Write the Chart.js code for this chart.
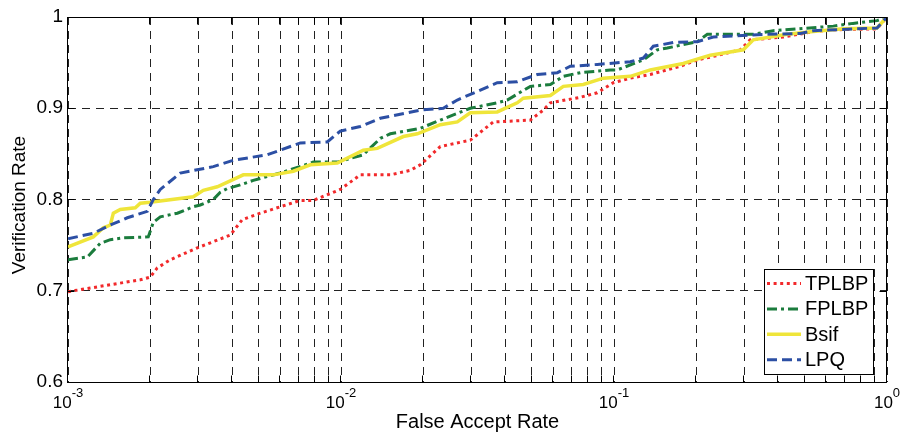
<!DOCTYPE html>
<html><head><meta charset="utf-8">
<script src="https://cdn.jsdelivr.net/npm/chart.js@4/dist/chart.umd.min.js"></script>
<style>html,body{margin:0;padding:0;background:#fff}canvas{display:block}</style>
</head><body>
<canvas id="c" width="904" height="433"></canvas>
<script>
// ---------- data ----------
const seriesNames = ['TPLBP', 'FPLBP', 'Bsif', 'LPQ'];

const tplbpFar  = [0.001, 0.001207, 0.00184, 0.002002, 0.002123, 0.00237, 0.002976, 0.003931, 0.00435, 0.005063, 0.005993, 0.007094, 0.007916, 0.00994, 0.01177, 0.01516, 0.01794, 0.01952, 0.02311, 0.02976, 0.03156, 0.03613, 0.04936, 0.05508, 0.05846, 0.07527, 0.08685, 0.0994, 0.1148, 0.1358, 0.175, 0.202, 0.2253, 0.2901, 0.3156, 0.417, 0.537, 0.6358, 0.9193, 1];
const tplbpRate = [0.699, 0.703, 0.712, 0.715, 0.725, 0.734, 0.747, 0.761, 0.778, 0.785, 0.792, 0.799, 0.799, 0.811, 0.827, 0.827, 0.832, 0.838, 0.858, 0.865, 0.871, 0.885, 0.887, 0.898, 0.906, 0.912, 0.917, 0.928, 0.933, 0.937, 0.946, 0.953, 0.956, 0.964, 0.975, 0.978, 0.984, 0.986, 0.987, 1.0];

const fplbpFar  = [0.001, 0.001177, 0.001313, 0.001429, 0.001594, 0.001968, 0.002053, 0.002178, 0.002515, 0.002877, 0.003052, 0.003406, 0.003614, 0.003833, 0.004277, 0.004773, 0.005993, 0.007916, 0.009692, 0.01207, 0.01393, 0.01516, 0.01952, 0.02311, 0.02976, 0.03736, 0.04065, 0.04936, 0.05846, 0.06523, 0.07527, 0.09692, 0.1028, 0.1281, 0.1441, 0.1567, 0.202, 0.2197, 0.3237, 0.3833, 0.6358, 0.7508, 0.9193, 1];
const fplbpRate = [0.734, 0.737, 0.752, 0.756, 0.758, 0.759, 0.775, 0.781, 0.785, 0.792, 0.794, 0.800, 0.808, 0.812, 0.816, 0.821, 0.829, 0.841, 0.841, 0.849, 0.867, 0.872, 0.878, 0.887, 0.900, 0.906, 0.909, 0.924, 0.926, 0.935, 0.939, 0.942, 0.942, 0.953, 0.964, 0.966, 0.973, 0.981, 0.981, 0.985, 0.990, 0.993, 0.996, 1.0];

const bsifFar  = [0.001, 0.001238, 0.001347, 0.001429, 0.001466, 0.001554, 0.001764, 0.00184, 0.002002, 0.002877, 0.003131, 0.003523, 0.00417, 0.004387, 0.005649, 0.006688, 0.007719, 0.009692, 0.01207, 0.01358, 0.01691, 0.01903, 0.02311, 0.02667, 0.02976, 0.03736, 0.04422, 0.04654, 0.05846, 0.06523, 0.07719, 0.09138, 0.1148, 0.1358, 0.1794, 0.2071, 0.2253, 0.2976, 0.3237, 0.4313, 0.537, 0.6918, 0.9193, 1];
const bsifRate = [0.748, 0.759, 0.769, 0.772, 0.785, 0.789, 0.791, 0.796, 0.797, 0.803, 0.810, 0.814, 0.824, 0.827, 0.827, 0.831, 0.838, 0.840, 0.854, 0.856, 0.869, 0.872, 0.882, 0.885, 0.895, 0.896, 0.906, 0.911, 0.914, 0.924, 0.926, 0.933, 0.935, 0.942, 0.949, 0.955, 0.958, 0.964, 0.975, 0.981, 0.984, 0.987, 0.988, 1.0];

const lpqFar  = [0.001, 0.001238, 0.001429, 0.001649, 0.001952, 0.002053, 0.002178, 0.002579, 0.003406, 0.004032, 0.00537, 0.007094, 0.008909, 0.00994, 0.01177, 0.01393, 0.01952, 0.0237, 0.02667, 0.03736, 0.04422, 0.05236, 0.062, 0.06918, 0.08685, 0.1148, 0.1281, 0.1393, 0.1649, 0.202, 0.2311, 0.3643, 0.4813, 0.537, 0.9193, 1];
const lpqRate = [0.757, 0.763, 0.772, 0.780, 0.787, 0.800, 0.811, 0.829, 0.836, 0.843, 0.849, 0.862, 0.863, 0.875, 0.880, 0.889, 0.898, 0.900, 0.909, 0.928, 0.929, 0.937, 0.939, 0.946, 0.948, 0.951, 0.955, 0.968, 0.972, 0.973, 0.978, 0.981, 0.982, 0.985, 0.988, 1.0];

const xTickValues = [0.001, 0.002, 0.003, 0.004, 0.005, 0.006, 0.007, 0.008, 0.009,
                     0.01, 0.02, 0.03, 0.04, 0.05, 0.06, 0.07, 0.08, 0.09,
                     0.1, 0.2, 0.3, 0.4, 0.5, 0.6, 0.7, 0.8, 0.9, 1];
const xDecadeValues = [0.001, 0.01, 0.1, 1];
const xDecadeExps = ['-3', '-2', '-1', '0'];
const yTickValues = [0.6, 0.7, 0.8, 0.9, 1];
const yTickLabels = ['0.6', '0.7', '0.8', '0.9', '1'];
const xTitle = 'False Accept Rate';
const yTitle = 'Verification Rate';

// ---------- styling ----------
const FONT = "'Liberation Sans', Arial, Helvetica, sans-serif";
const styles = [
  { color: '#f2292b', dash: [3, 3.6], width: 3,   order: 4 },
  { color: '#1b7c3d', dash: [10, 4, 3, 4], width: 3, order: 3 },
  { color: '#efe53a', dash: [], width: 3.5, order: 2 },
  { color: '#2c4fa4', dash: [10, 5], width: 3, order: 1 }
];
const farSets = [tplbpFar, fplbpFar, bsifFar, lpqFar];
const rateSets = [tplbpRate, fplbpRate, bsifRate, lpqRate];

const datasets = seriesNames.map((name, k) => ({
  label: name,
  data: farSets[k].map((f, i) => ({ x: f, y: rateSets[k][i] })),
  borderColor: styles[k].color,
  backgroundColor: styles[k].color,
  borderDash: styles[k].dash,
  borderWidth: styles[k].width,
  borderCapStyle: 'butt',
  borderJoinStyle: 'miter',
  pointRadius: 0,
  tension: 0,
  fill: false,
  order: styles[k].order
}));

const decor = {
  id: 'decor',
  afterDraw(chart) {
    const { ctx, chartArea: a, scales: { x, y } } = chart;
    const L = Math.round(a.left) - 0.5, R = Math.round(a.right) - 0.5;
    const T = Math.round(a.top) + 0.5, B = Math.round(a.bottom) + 0.5;
    ctx.save();
    ctx.setLineDash([]);
    ctx.strokeStyle = '#000';
    ctx.lineWidth = 1;
    // inside ticks
    const TL = 7;
    ctx.beginPath();
    xTickValues.forEach(v => {
      const px = Math.round(x.getPixelForValue(v)) - 0.5;
      ctx.moveTo(px, B); ctx.lineTo(px, B - TL);
      ctx.moveTo(px, T); ctx.lineTo(px, T + TL);
    });
    yTickValues.forEach(v => {
      const py = Math.round(y.getPixelForValue(v)) + 0.5;
      ctx.moveTo(L, py); ctx.lineTo(L + TL, py);
      ctx.moveTo(R, py); ctx.lineTo(R - TL, py);
    });
    ctx.stroke();
    // box
    ctx.strokeRect(L, T, R - L, B - T);

    // x decade labels with superscripts
    ctx.fillStyle = '#000';
    ctx.textBaseline = 'alphabetic';
    ctx.textAlign = 'left';
    xDecadeValues.forEach((v, i) => {
      const px = x.getPixelForValue(v);
      ctx.font = `17px ${FONT}`;
      const wb = ctx.measureText('10').width;
      ctx.font = `13px ${FONT}`;
      const we = ctx.measureText(xDecadeExps[i]).width;
      const start = px - (wb + we) / 2;
      ctx.font = `17px ${FONT}`;
      ctx.fillText('10', start, 407.5);
      ctx.font = `13px ${FONT}`;
      ctx.fillText(xDecadeExps[i], start + wb, 397);
    });

    // axis titles
    ctx.textAlign = 'center';
    ctx.font = `20px ${FONT}`;
    ctx.fillText(xTitle, (a.left + a.right) / 2, 428);
    ctx.save();
    ctx.translate(25, 205);
    ctx.rotate(-Math.PI / 2);
    ctx.font = `19px ${FONT}`;
    ctx.fillText(yTitle, 0, 0);
    ctx.restore();

    // legend
    const lx = 764.5, ly = 269.5, lw = 109, lh = 105;
    ctx.fillStyle = '#fff';
    ctx.fillRect(lx, ly, lw, lh);
    ctx.strokeStyle = '#000';
    ctx.lineWidth = 1;
    ctx.strokeRect(lx, ly, lw, lh);
    ctx.font = `20px ${FONT}`;
    ctx.textAlign = 'left';
    ctx.textBaseline = 'middle';
    seriesNames.forEach((name, k) => {
      const yy = 283.5 + k * 25.4;
      ctx.save();
      ctx.strokeStyle = styles[k].color;
      ctx.lineWidth = styles[k].width;
      ctx.lineCap = 'butt';
      ctx.setLineDash(styles[k].dash);
      ctx.beginPath();
      ctx.moveTo(767, yy); ctx.lineTo(801, yy);
      ctx.stroke();
      ctx.restore();
      ctx.fillStyle = '#000';
      ctx.fillText(name, 805, yy + 1);
    });
    ctx.restore();
  }
};

new Chart(document.getElementById('c'), {
  type: 'line',
  data: { datasets },
  options: {
    responsive: false,
    animation: false,
    devicePixelRatio: 1,
    parsing: true,
    layout: { padding: { top: 17, right: 17, left: 0, bottom: 0 } },
    plugins: { legend: { display: false }, tooltip: { enabled: false }, title: { display: false } },
    scales: {
      x: {
        type: 'logarithmic', min: 0.001, max: 1,
        afterBuildTicks: s => { s.ticks = xTickValues.map(v => ({ value: v })); },
        afterFit: s => { s.height = 51; },
        ticks: { display: false, autoSkip: false },
        grid: { color: '#222', lineWidth: 1, drawTicks: false },
        border: { display: false, dash: [8, 6] }
      },
      y: {
        type: 'linear', min: 0.6, max: 1,
        afterBuildTicks: s => { s.ticks = yTickValues.map(v => ({ value: v })); },
        afterFit: s => { s.width = 68; },
        ticks: {
          autoSkip: false,
          color: '#000',
          padding: 5,
          font: { family: FONT, size: 19 },
          callback: (v, i) => yTickLabels[i]
        },
        grid: { color: '#222', lineWidth: 1, drawTicks: false },
        border: { display: false, dash: [8, 6] }
      }
    }
  },
  plugins: [decor]
});
</script>
</body></html>
